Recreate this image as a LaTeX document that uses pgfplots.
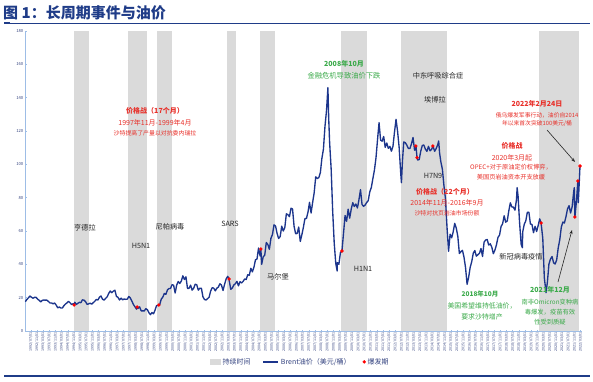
\documentclass[border=0pt]{standalone}
\usepackage{fontspec}
\setmainfont{Noto Sans CJK SC}
\usepackage{pgfplots}
\pgfplotsset{compat=1.18}
\usepackage{pgfplotstable}
\usetikzlibrary{arrows.meta}
\definecolor{titleblue}{HTML}{1F3C88}
\definecolor{brent}{HTML}{1C358C}
\definecolor{bandgray}{HTML}{DADADA}
\definecolor{axisblue}{HTML}{9DBDE6}
\definecolor{tickblue}{HTML}{33427F}
\definecolor{annred}{HTML}{E8302A}
\definecolor{anngreen}{HTML}{3BAA4A}
\definecolor{virus}{HTML}{262626}
\newcommand\fs[1]{\fontsize{#1}{#1}\selectfont}
\newcommand\mylab{\edef\yy{\the\numexpr1992+(\ticknum-1)/3\relax}\edef\mm{\the\numexpr3+4*(\ticknum-3*((\ticknum-1)/3))\relax}\yy/\ifnum\mm<10 0\fi\mm/01}

\pgfplotstableread{
y m v
1992 3 17.6
1992 4 18.9
1992 5 19.9
1992 6 21.0
1992 7 20.2
1992 8 19.7
1992 9 20.2
1992 10 20.2
1992 11 19.1
1992 12 18.4
1993 1 17.5
1993 2 18.4
1993 3 18.6
1993 4 18.5
1993 5 18.5
1993 6 17.7
1993 7 16.8
1993 8 16.8
1993 9 16.3
1993 10 16.8
1993 11 15.5
1993 12 13.9
1994 1 14.4
1994 2 13.8
1994 3 13.8
1994 4 15.2
1994 5 16.2
1994 6 16.9
1994 7 17.8
1994 8 16.9
1994 9 15.9
1994 10 16.4
1994 10.6 15.6
1994 11 17.3
1994 12 15.9
1995 1 16.6
1995 2 17.2
1995 3 17.0
1995 4 18.7
1995 5 18.5
1995 6 17.6
1995 7 16.0
1995 8 16.3
1995 9 16.7
1995 10 16.1
1995 11 17.0
1995 12 17.9
1996 1 18.9
1996 2 18.6
1996 3 20.3
1996 4 21.0
1996 5 19.1
1996 6 18.5
1996 7 19.6
1996 8 20.5
1996 9 22.6
1996 10 24.0
1996 11 23.0
1996 12 23.9
1997 1 24.5
1997 2 20.8
1997 3 20.2
1997 4 18.6
1997 5 19.7
1997 6 18.7
1997 7 19.2
1997 8 19.0
1997 9 19.1
1997 10 20.7
1997 11 19.8
1997 12 17.9
1998 1 15.9
1998 2 14.5
1998 3 13.1
1998 3.4 14.4
1998 4 13.6
1998 5 14.5
1998 6 12.1
1998 7 12.1
1998 8 12.0
1998 9 13.4
1998 10 12.8
1998 11 11.0
1998 12 9.8
1999 1 11.1
1999 2 10.3
1999 3 12.5
1999 4 15.3
1999 5 15.3
1999 5.5 15.6
1999 6 15.8
1999 7 19.1
1999 8 20.3
1999 9 22.5
1999 10 22.0
1999 11 24.6
1999 12 25.5
2000 1 25.5
2000 2 27.8
2000 3 27.5
2000 4 22.8
2000 5 27.6
2000 6 29.7
2000 7 28.5
2000 8 30.0
2000 9 33.1
2000 10 30.9
2000 11 32.5
2000 12 25.5
2001 1 25.6
2001 2 27.5
2001 3 24.5
2001 4 25.7
2001 5 28.1
2001 6 27.7
2001 7 24.5
2001 8 25.7
2001 9 25.6
2001 10 20.5
2001 11 18.9
2001 12 18.6
2002 1 19.4
2002 2 20.3
2002 3 24.0
2002 4 26.0
2002 5 25.7
2002 6 24.1
2002 7 25.7
2002 8 26.4
2002 9 28.4
2002 10 27.5
2002 11 24.3
2002 12 28.0
2003 1 31.2
2003 2 32.8
2003 2.9 31.2
2003 3 30.3
2003 4 25.0
2003 5 25.8
2003 6 27.6
2003 7 28.4
2003 8 29.8
2003 9 27.1
2003 10 29.6
2003 11 28.8
2003 12 29.8
2004 1 31.2
2004 2 30.9
2004 3 33.8
2004 4 33.4
2004 5 37.6
2004 6 35.5
2004 7 38.2
2004 8 42.7
2004 9 43.2
2004 10 49.8
2004 11 45.0
2004 11.5 49.2
2004 12 40.0
2005 1 44.5
2005 2 45.5
2005 3 53.1
2005 4 51.9
2005 5 49.0
2005 6 55.6
2005 7 57.9
2005 8 63.7
2005 9 63.0
2005 10 58.5
2005 11 55.5
2005 12 56.7
2006 1 62.9
2006 2 60.0
2006 3 62.1
2006 4 70.3
2006 5 69.8
2006 6 68.6
2006 7 73.7
2006 8 73.2
2006 9 62.8
2006 10 58.4
2006 11 58.5
2006 12 62.4
2007 1 53.7
2007 2 57.6
2007 3 62.1
2007 4 67.4
2007 5 67.5
2007 6 71.3
2007 7 77.2
2007 8 70.8
2007 9 77.1
2007 10 82.9
2007 11 92.5
2007 12 91.5
2008 1 92.0
2008 2 95.0
2008 3 103.6
2008 4 109.1
2008 5 122.8
2008 6 132.3
2008 6.9 146
2008 7.4 128
2008 8 113.2
2008 9 97.2
2008 10 71.6
2008 11 52.5
2008 12 40.4
2008 12.9 36
2009 1 41.0
2009 2 40.0
2009 3 47.0
2009 4 48.0
2009 5 58.6
2009 6 69.3
2009 7 65.8
2009 8 73.1
2009 9 67.7
2009 10 73.2
2009 11 77.0
2009 12 74.7
2010 1 76.2
2010 2 73.8
2010 3 78.8
2010 4 84.8
2010 5 75.9
2010 6 74.8
2010 7 75.6
2010 8 77.1
2010 9 78.2
2010 10 83.5
2010 11 86.1
2010 12 91.4
2011 1 96.5
2011 2 103.7
2011 3 114.6
2011 4 125.0
2011 5 114.5
2011 6 113.9
2011 7 116.7
2011 8 110.2
2011 9 112.8
2011 10 109.6
2011 11 110.8
2011 12 107.9
2012 1 110.7
2012 2 119.3
2012 3 127.0
2012 4 119.8
2012 5 110.3
2012 6 95.2
2012 6.5 89.0
2012 7.2 102.6
2012 8 113.4
2012 9 113.0
2012 10 111.5
2012 11 109.5
2012 12 109.5
2013 1 112.3
2013 2 116.1
2013 3 108.5
2013 3.9 111
2013 4.6 104
2013 5 102.6
2013 6 102.9
2013 7 107.9
2013 8 111.3
2013 9 111.6
2013 10 109.1
2013 11 107.8
2013 12 110.8
2014 1 108.1
2014 2 108.9
2014 2.9 111
2014 4 107.8
2014 5 109.5
2014 6 111.8
2014 6.6 114
2014 7.2 106.8
2014 8 101.6
2014 9 97.1
2014 10 87.4
2014 11 79.4
2014 12 62.3
2015 1 47.8
2015 2 58.1
2015 3 55.9
2015 4 59.5
2015 5 64.6
2015 6 61.7
2015 7 56.8
2015 8 46.5
2015 9 47.6
2015 10 48.4
2015 11 44.3
2015 12 38.0
2016 1 28.0
2016 2 32.2
2016 3 38.2
2016 4 41.6
2016 5 46.7
2016 6 48.3
2016 7 44.9
2016 8 45.8
2016 9 46.6
2016 10 49.5
2016 11 44.7
2016 12 53.3
2017 1 54.6
2017 2 54.9
2017 3 51.6
2017 4 52.3
2017 5 50.3
2017 6 46.4
2017 7 48.5
2017 8 51.7
2017 9 56.2
2017 10 57.5
2017 11 62.7
2017 12 64.4
2018 1 69.1
2018 2 65.3
2018 3 66.0
2018 4 72.1
2018 5 76.9
2018 6 74.4
2018 7 74.3
2018 8 72.5
2018 9 79.0
2018 9.4 86
2018 10 81.0
2018 11 64.8
2018 12 52.0
2018 12.8 50.0
2019 1 59.4
2019 2 64.0
2019 3 66.1
2019 4 71.2
2019 5 71.3
2019 6 64.2
2019 7 63.9
2019 8 59.0
2019 9 62.8
2019 10 59.7
2019 11 63.2
2019 12 67.3
2020 0.9 64.8
2020 2 55.7
2020 3 32.0
2020 4.1 23.0
2020 5 29.4
2020 6 40.3
2020 7 43.2
2020 8 44.7
2020 9 40.9
2020 10 40.2
2020 11 42.7
2020 12 49.9
2021 1 54.8
2021 2 62.3
2021 3 65.4
2021 4 64.8
2021 5 68.5
2021 6 73.2
2021 7 75.2
2021 8 70.8
2021 9 74.5
2021 10 83.5
2021 10.4 86.0
2021 10.8 68.4
2021 11.8 78.0
2022 0.7 90.0
2022 1.0 77.0
2022 2.1 99.0
}\brentdata

\pgfplotstableread{
y m v
1994 10.6 15.6
1998 3.4 14.4
1999 5.5 15.6
2003 2.9 31.2
2004 11.5 49.2
2009 4 48.0
2013 3.9 111
2013 4.6 104
2014 2.9 111
2020 0.9 64.8
2021 10.8 68.4
2022 0.7 90.0
2022 2.1 99.0
}\outbreak

\begin{document}
\begin{tikzpicture}[x=1pt,y=1pt]
\path (0,0) rectangle (593,381);
\node[anchor=west, inner sep=0, text=titleblue, font=\fs{15}\bfseries] at (3,368) {图 1：长周期事件与油价};
\draw[titleblue, line width=0.8pt] (4,358) -- (590,358);
\draw[titleblue, line width=2pt] (4,358) -- (10,358);
\draw[titleblue, line width=1.2pt] (4,5) -- (590,5);

\begin{axis}[at={(25pt,50pt)}, anchor=south west, scale only axis,
  width=557pt, height=300pt,
  xmin=2.3, xmax=362.9, ymin=0, ymax=180,
  axis x line*=bottom, axis y line*=left,
  axis line style={axisblue, line width=0.6pt},
  tick style={axisblue, line width=0.4pt}, major tick length=1.5pt,
  ytick={0,20,...,180},
  xtick={2,6,...,362},
  xticklabel={\mylab},
  xticklabel style={rotate=90, anchor=east, font=\fs{3.6}, text=tickblue, inner sep=1pt},
  yticklabel style={font=\fs{4.2}, text=tickblue, inner sep=1.5pt},
  /pgf/number format/assume math mode=true,
  clip=false,
  legend style={at={(0.494,-0.103)}, anchor=center, draw=none, fill=none,
    legend columns=3, font=\fs{7}, text=tickblue,
    /tikz/every even column/.append style={column sep=10pt}},
]
\addplot[fill=bandgray, draw=none,
  legend image code/.code={\fill[bandgray] (0pt,-3pt) rectangle (11pt,3pt);}]
  coordinates {(34.1,180) (43.8,180)} \closedcycle;
\addlegendentry{持续时间}
\addplot[fill=bandgray, draw=none, forget plot] coordinates {(69.0,180) (81.2,180)} \closedcycle;
\addplot[fill=bandgray, draw=none, forget plot] coordinates {(87.7,180) (97.4,180)} \closedcycle;
\addplot[fill=bandgray, draw=none, forget plot] coordinates {(133.1,180) (138.8,180)} \closedcycle;
\addplot[fill=bandgray, draw=none, forget plot] coordinates {(154.4,180) (164.2,180)} \closedcycle;
\addplot[fill=bandgray, draw=none, forget plot] coordinates {(206.9,180) (223.7,180)} \closedcycle;
\addplot[fill=bandgray, draw=none, forget plot] coordinates {(245.8,180) (275.5,180)} \closedcycle;
\addplot[fill=bandgray, draw=none, forget plot] coordinates {(335.0,180) (361.2,180)} \closedcycle;
\addplot[brent, line width=1.35pt, line join=round, mark=none,
  legend image code/.code={\draw[brent, line width=1.3pt] (0pt,0pt) -- (15pt,0pt);}]
  table[x expr=(\thisrow{y}-1992)*12+\thisrow{m}-0.5, y=v] {\brentdata};
\addlegendentry{Brent油价（美元/桶）}
\addplot[only marks, mark=*, mark size=1.5pt, color=red]
  table[x expr=(\thisrow{y}-1992)*12+\thisrow{m}-0.5, y=v] {\outbreak};
\addlegendentry{爆发期}
\end{axis}

% virus labels
\begin{scope}[every node/.style={inner sep=0, text=virus, font=\fs{7.2}}]
\node at (85,153) {亨德拉};
\node at (141,135) {H5N1};
\node at (170,154) {尼帕病毒};
\node at (230,157) {SARS};
\node at (278,104) {马尔堡};
\node at (363,112) {H1N1};
\node at (433,205) {H7N9};
\node at (438,305) {中东呼吸综合症};
\node at (435,281) {埃博拉};
\node at (521,124) {新冠病毒疫情};
\end{scope}

\begin{scope}[every node/.style={inner sep=0, text=annred}]
\node[font=\fs{7}\bfseries] at (155,270) {价格战（17个月）};
\node[font=\fs{7}] at (155,258) {1997年11月-1999年4月};
\node[font=\fs{5.9}] at (155,248) {沙特提高了产量以对抗委内瑞拉};
\node[font=\fs{7}\bfseries] at (537,277) {2022年2月24日};
\node[font=\fs{5.8}] at (537,266) {俄乌爆发军事行动，油价自2014};
\node[font=\fs{5.8}] at (537,257) {年以来首次突破100美元/桶};
\node[font=\fs{7}\bfseries] at (512,235) {价格战};
\node[font=\fs{7}] at (512,223) {2020年3月起};
\node[font=\fs{6.2}] at (511,214) {OPEC+对于原油定价权博弈，};
\node[font=\fs{6.2}] at (511,204) {美国页岩油资本开支放缓};
\node[font=\fs{7}\bfseries] at (445,189) {价格战（22个月）};
\node[font=\fs{7}] at (447,178) {2014年11月-2016年9月};
\node[font=\fs{5.9}] at (447,168) {沙特对抗页岩油市场份额};
\end{scope}

\begin{scope}[every node/.style={inner sep=0, text=anngreen}]
\node[font=\fs{7}\bfseries] at (344,317) {2008年10月};
\node[font=\fs{7.3}] at (344,305) {金融危机导致油价下跌};
\node[font=\fs{6.5}\bfseries] at (480,87) {2018年10月};
\node[font=\fs{6.9}] at (482,75) {美国希望维持低油价，};
\node[font=\fs{6.9}] at (482,64) {要求沙特增产};
\node[font=\fs{7}\bfseries] at (550,91) {2021年12月};
\node[font=\fs{6.3}] at (550,79) {南非Omicron变种病};
\node[font=\fs{6.3}] at (550,69) {毒爆发，疫苗有效};
\node[font=\fs{6.3}] at (550,59) {性受到质疑};
\end{scope}

\draw[-{Stealth[length=4pt,width=3pt]}, line width=0.6pt, black!85] (547,251) -- (575,219);
\draw[-{Stealth[length=4pt,width=3pt]}, line width=0.6pt, black!85] (558,99) -- (572,151);
\end{tikzpicture}
\end{document}
